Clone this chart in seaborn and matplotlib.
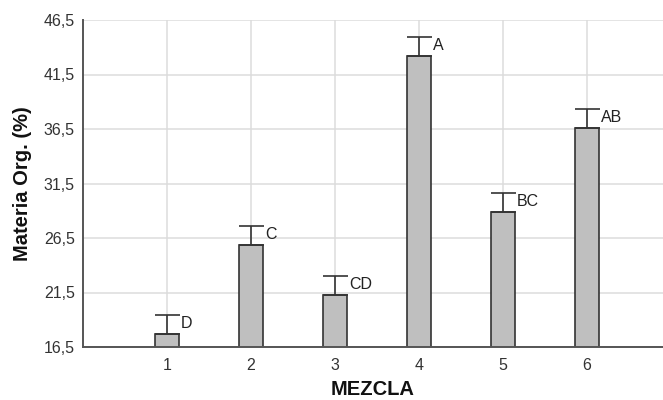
import matplotlib
matplotlib.use("Agg")
import matplotlib.pyplot as plt
import seaborn as sns
import pandas as pd

# Organic matter per mixture, with standard error and Tukey groups
mezcla = [1, 2, 3, 4, 5, 6]
materia_org = [17.7, 25.9, 21.3, 43.2, 28.9, 36.6]
error_est = [1.7, 1.7, 1.7, 1.7, 1.7, 1.7]
grupos = ["D", "C", "CD", "A", "BC", "AB"]
yticks = [16.5, 21.5, 26.5, 31.5, 36.5, 41.5, 46.5]
ytick_labels = ["16,5", "21,5", "26,5", "31,5", "36,5", "41,5", "46,5"]

df = pd.DataFrame({"MEZCLA": mezcla, "MO": materia_org})

sns.set_style("white")
plt.rcParams["font.family"] = ["Liberation Sans", "DejaVu Sans"]

fig = plt.figure(figsize=(6.63, 4.0), dpi=100)
ax = fig.add_axes([83 / 663, 53 / 400, 580 / 663, 327 / 400])

ax.set_axisbelow(True)
ax.grid(True, color="#dcdcdc", linewidth=1.1)

sns.barplot(data=df, x="MEZCLA", y="MO", native_scale=True, width=0.28,
            color="#bfbfbf", saturation=1, edgecolor="#333333",
            linewidth=1.2, errorbar=None, ax=ax)

ax.errorbar(mezcla, materia_org, yerr=[[0] * len(error_est), error_est],
            fmt="none", ecolor="#333333", elinewidth=1.2, capsize=9,
            capthick=1.2, zorder=3)

for x, y, e, g in zip(mezcla, materia_org, error_est, grupos):
    ax.annotate(g, xy=(x + 0.14, y + e), xytext=(2, -8),
                textcoords="offset pixels", ha="left", va="center",
                fontsize=11.5, color="#222222")

ax.set_xlim(0, 580 / 84)
ax.set_ylim(16.5, 46.5)
ax.set_xticks(mezcla)
ax.set_xticklabels([str(m) for m in mezcla])
ax.set_yticks(yticks)
ax.set_yticklabels(ytick_labels)

for side in ["top", "right"]:
    ax.spines[side].set_visible(False)
for side in ["left", "bottom"]:
    ax.spines[side].set_color("#555555")
    ax.spines[side].set_linewidth(1.4)

ax.tick_params(axis="both", which="major", direction="out", length=4,
               width=1.1, color="#555555", labelsize=11.5,
               labelcolor="#333333", pad=2)
ax.tick_params(axis="x", pad=4)

ax.set_xlabel("MEZCLA", fontsize=14.5, fontweight="bold", labelpad=5,
              color="#111111")
ax.set_ylabel("Materia Org. (%)", fontsize=14.5, fontweight="bold",
              labelpad=8, color="#111111")

fig.savefig("out.png", dpi=100)
